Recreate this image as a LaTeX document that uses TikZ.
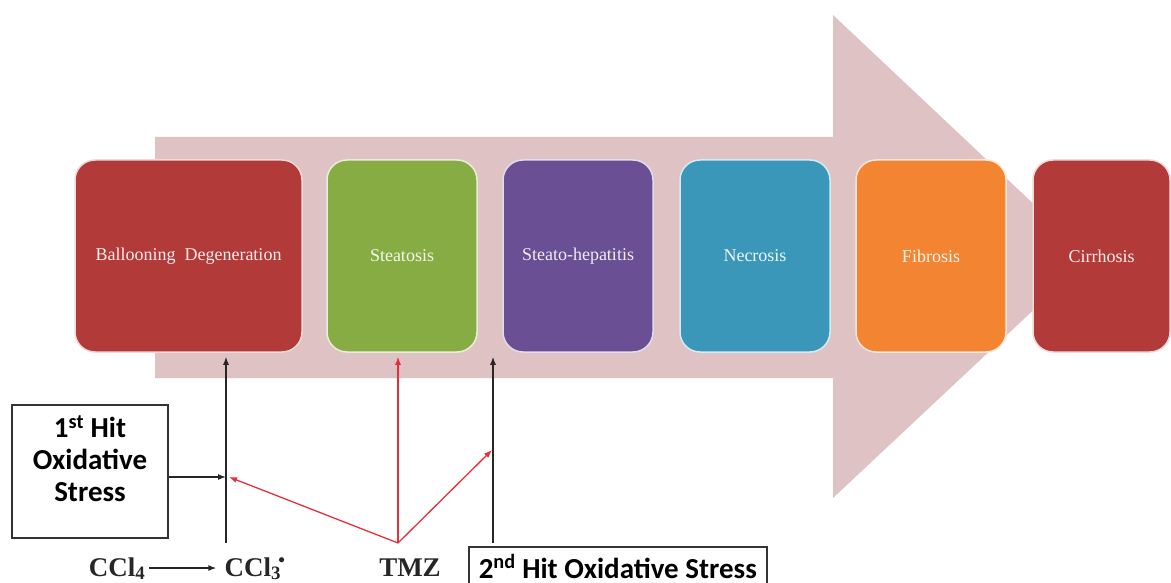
\documentclass[tikz,border=0pt]{standalone}
\usepackage{fontspec}
\setmainfont{Liberation Serif}
\newfontfamily\hitfont{Carlito}
\usepackage{xcolor}
\definecolor{stageRed}{HTML}{B23B3A}
\definecolor{stageGreen}{HTML}{87AC43}
\definecolor{stagePurple}{HTML}{6A4F94}
\definecolor{stageTeal}{HTML}{3A97B9}
\definecolor{stageOrange}{HTML}{F38432}
\definecolor{arrowPink}{HTML}{DFC3C4}
\definecolor{tmzRed}{HTML}{E5303C}
\usepackage{tikz}
\usetikzlibrary{arrows.meta,positioning,calc}

\begin{document}
\begin{tikzpicture}[x=1pt,y=-1pt,
 stage/.style={draw=#1!20,line width=1.5pt,fill=#1,rounded corners=20pt,
 minimum width=150pt,minimum height=192pt,text=#1!10,
 font=\fontsize{18}{21}\selectfont},
 hitbox/.style={draw=black!80,line width=1.5pt,align=center,
 font=\hitfont\bfseries\fontsize{29}{32}\selectfont},
 chem/.style={font=\bfseries\fontsize{27}{30}\selectfont,text=black!85,
 inner sep=2pt,anchor=base},
 arr/.style={-{Latex[length=8pt,width=6pt]},line width=1.3pt,draw=black!85},
 redarr/.style={arr,draw=tmzRed}]
 \useasboundingbox (0,0) rectangle (1171,583);
 % big progression arrow
 \fill[arrowPink] (155,137) -- (833,137) -- (833,15) -- (1090,257)
 -- (833,498) -- (833,378) -- (155,378) -- cycle;
 % stages
 \node[stage=stageRed,minimum width=227pt] (ball) at (188.5,256) {Ballooning\ \ Degeneration};
 \node[stage=stageGreen] (steat) at (402,256) {Steatosis};
 \node[stage=stagePurple] (hep) at (578,256) {Steato-hepatitis};
 \node[stage=stageTeal] (necr) at (755,256) {Necrosis};
 \node[stage=stageOrange] (fibr) at (931,256) {Fibrosis};
 \node[stage=stageRed,minimum width=137pt] (cirr) at (1101.5,256) {Cirrhosis};
 % hits and agents
 \node[hitbox,minimum width=156pt,minimum height=133pt] (hit1) at (90,471.5)
 {1\textsuperscript{st} Hit\\Oxidative\\Stress\\[-6pt]};
 \node[hitbox,anchor=base west,text height=25pt,text depth=2pt,inner ysep=6pt,
 inner xsep=10pt] (hit2) at (468,578) {2\textsuperscript{nd} Hit Oxidative Stress};
 \node[chem] (ccl4) at (117,576) {CCl\textsubscript{4}};
 \node[chem] (ccl3) at (255,576) {CCl\textsubscript{3}\kern-0.1em\textsuperscript{•}};
 \node[chem] (tmz) at (410,576) {TMZ};
 \coordinate (ccl3top) at (226,543);
 \coordinate (tmzapex) at (398,543);
 \coordinate (hit2top) at (493,543);
 \coordinate (join1) at (229,477);
 \coordinate (join2) at (492,450);
 \draw[arr,shorten >=6pt,shorten <=2pt] (ccl4.east |- 0,568) -- (ccl3.west |- 0,568);
 \draw[arr,shorten >=4pt] (ccl3top) -- (ccl3top |- ball.south);
 \draw[arr] (hit1.east |- join1) -- (ccl3top |- join1);
 \draw[redarr,shorten >=4pt] (tmzapex) -- (tmzapex |- steat.south);
 \draw[redarr] (tmzapex) -- (join1);
 \draw[redarr] (tmzapex) -- (join2);
 \draw[arr,shorten >=4pt] (hit2top) -- (hit2top |- steat.south);
\end{tikzpicture}
\end{document}
